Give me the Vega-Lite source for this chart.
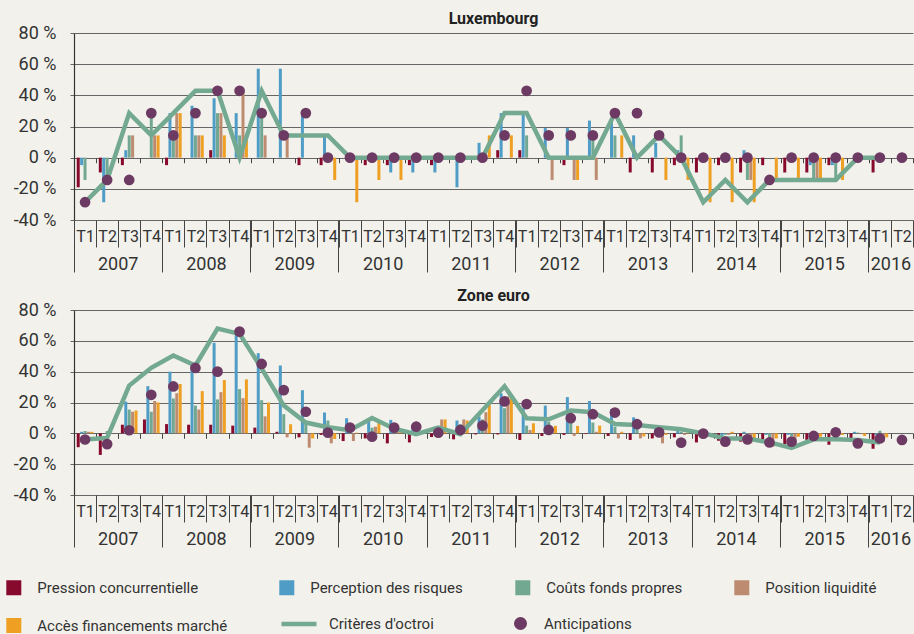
{
  "$schema": "https://vega.github.io/schema/vega-lite/v6.json",
  "background": "#f2f1ec",
  "padding": {"left": 6, "top": 11, "right": 0, "bottom": 0},
  "config": {
    "font": "Roboto",
    "view": {"stroke": null},
    "axis": {"labelFont": "Roboto", "labelColor": "#333"},
    "axisY": {"title": null, "values": [-40,-20,0,20,40,60,80], "labelExpr": "datum.value + ' %'", "labelFontSize": 18, "labelPadding": 14, "tickSize": 4, "tickColor": "#666", "grid": true, "gridColor": "#666", "gridWidth": 1.2, "domainColor": "#333", "domainWidth": 1.2},
    "legend": {"labelFont": "Roboto", "labelColor": "#333"},
    "title": {"frame": "group", "fontSize": 16, "fontWeight": "bold", "color": "#222", "offset": -3, "font": "Roboto"}
  },
  "spacing": 15,
  "data": {"values": [
    {"p":"L","q":"2007 T1","s":"pc","v":-19},{"p":"L","q":"2007 T1","s":"pr","v":-4.8},{"p":"L","q":"2007 T1","s":"cf","v":-14.3},
    {"p":"L","q":"2007 T2","s":"pc","v":-9.5},{"p":"L","q":"2007 T2","s":"pr","v":-28.6},{"p":"L","q":"2007 T2","s":"cf","v":-14.3},
    {"p":"L","q":"2007 T3","s":"pc","v":-4.8},{"p":"L","q":"2007 T3","s":"pr","v":4.8},{"p":"L","q":"2007 T3","s":"cf","v":14.3},{"p":"L","q":"2007 T3","s":"pl","v":14.3},
    {"p":"L","q":"2007 T4","s":"cf","v":28.6},{"p":"L","q":"2007 T4","s":"pl","v":14.3},{"p":"L","q":"2007 T4","s":"af","v":14.3},
    {"p":"L","q":"2008 T1","s":"pc","v":-4.8},{"p":"L","q":"2008 T1","s":"pr","v":28.6},{"p":"L","q":"2008 T1","s":"cf","v":14.3},{"p":"L","q":"2008 T1","s":"pl","v":28.6},{"p":"L","q":"2008 T1","s":"af","v":28.6},
    {"p":"L","q":"2008 T2","s":"pr","v":33.3},{"p":"L","q":"2008 T2","s":"cf","v":14.3},{"p":"L","q":"2008 T2","s":"pl","v":14.3},{"p":"L","q":"2008 T2","s":"af","v":14.3},
    {"p":"L","q":"2008 T3","s":"pc","v":4.8},{"p":"L","q":"2008 T3","s":"pr","v":38.1},{"p":"L","q":"2008 T3","s":"cf","v":28.6},{"p":"L","q":"2008 T3","s":"pl","v":28.6},{"p":"L","q":"2008 T3","s":"af","v":14.3},
    {"p":"L","q":"2008 T4","s":"pr","v":28.6},{"p":"L","q":"2008 T4","s":"cf","v":14.3},{"p":"L","q":"2008 T4","s":"pl","v":42.9},{"p":"L","q":"2008 T4","s":"af","v":14.3},
    {"p":"L","q":"2009 T1","s":"pr","v":57.1},{"p":"L","q":"2009 T1","s":"cf","v":28.6},{"p":"L","q":"2009 T1","s":"pl","v":14.3},
    {"p":"L","q":"2009 T2","s":"pr","v":57.1},{"p":"L","q":"2009 T2","s":"pl","v":14.3},
    {"p":"L","q":"2009 T3","s":"pc","v":-4.8},{"p":"L","q":"2009 T3","s":"pr","v":28.6},
    {"p":"L","q":"2009 T4","s":"pc","v":-4.8},{"p":"L","q":"2009 T4","s":"pr","v":14.3},{"p":"L","q":"2009 T4","s":"af","v":-14.3},
    {"p":"L","q":"2010 T1","s":"af","v":-28.6},
    {"p":"L","q":"2010 T2","s":"pc","v":-4.8},{"p":"L","q":"2010 T2","s":"af","v":-14.3},
    {"p":"L","q":"2010 T3","s":"pc","v":-4.8},{"p":"L","q":"2010 T3","s":"pr","v":-9.5},{"p":"L","q":"2010 T3","s":"af","v":-14.3},
    {"p":"L","q":"2010 T4","s":"pc","v":-4.8},{"p":"L","q":"2010 T4","s":"pr","v":-9.5},
    {"p":"L","q":"2011 T1","s":"pc","v":-4.8},{"p":"L","q":"2011 T1","s":"pr","v":-9.5},
    {"p":"L","q":"2011 T2","s":"pr","v":-19},
    {"p":"L","q":"2011 T3","s":"pr","v":9.5},{"p":"L","q":"2011 T3","s":"af","v":14.3},
    {"p":"L","q":"2011 T4","s":"pc","v":4.8},{"p":"L","q":"2011 T4","s":"pr","v":28.6},{"p":"L","q":"2011 T4","s":"af","v":14.3},
    {"p":"L","q":"2012 T1","s":"pc","v":4.8},{"p":"L","q":"2012 T1","s":"pr","v":28.6},{"p":"L","q":"2012 T1","s":"cf","v":14.3},
    {"p":"L","q":"2012 T2","s":"pr","v":19},{"p":"L","q":"2012 T2","s":"pl","v":-14.3},
    {"p":"L","q":"2012 T3","s":"pc","v":-4.8},{"p":"L","q":"2012 T3","s":"pr","v":19},{"p":"L","q":"2012 T3","s":"pl","v":-14.3},{"p":"L","q":"2012 T3","s":"af","v":-14.3},
    {"p":"L","q":"2012 T4","s":"pr","v":23.8},{"p":"L","q":"2012 T4","s":"cf","v":14.3},{"p":"L","q":"2012 T4","s":"pl","v":-14.3},
    {"p":"L","q":"2013 T1","s":"pr","v":23.8},{"p":"L","q":"2013 T1","s":"cf","v":14.3},{"p":"L","q":"2013 T1","s":"af","v":14.3},
    {"p":"L","q":"2013 T2","s":"pc","v":-9.5},{"p":"L","q":"2013 T2","s":"pr","v":14.3},
    {"p":"L","q":"2013 T3","s":"pc","v":-9.5},{"p":"L","q":"2013 T3","s":"pr","v":9.5},{"p":"L","q":"2013 T3","s":"af","v":-14.3},
    {"p":"L","q":"2013 T4","s":"pc","v":-4.8},{"p":"L","q":"2013 T4","s":"pr","v":4.8},{"p":"L","q":"2013 T4","s":"cf","v":14.3},{"p":"L","q":"2013 T4","s":"af","v":-14.3},
    {"p":"L","q":"2014 T1","s":"pc","v":-9.5},{"p":"L","q":"2014 T1","s":"af","v":-28.6},
    {"p":"L","q":"2014 T2","s":"pc","v":-4.8},{"p":"L","q":"2014 T2","s":"af","v":-28.6},
    {"p":"L","q":"2014 T3","s":"pc","v":-9.5},{"p":"L","q":"2014 T3","s":"pr","v":4.8},{"p":"L","q":"2014 T3","s":"cf","v":-14.3},{"p":"L","q":"2014 T3","s":"pl","v":-14.3},{"p":"L","q":"2014 T3","s":"af","v":-28.6},
    {"p":"L","q":"2014 T4","s":"pc","v":-4.8},{"p":"L","q":"2014 T4","s":"af","v":-14.3},
    {"p":"L","q":"2015 T1","s":"pc","v":-9.5},{"p":"L","q":"2015 T1","s":"af","v":-14.3},
    {"p":"L","q":"2015 T2","s":"pc","v":-9.5},{"p":"L","q":"2015 T2","s":"pr","v":-4.8},{"p":"L","q":"2015 T2","s":"cf","v":-14.3},{"p":"L","q":"2015 T2","s":"pl","v":-14.3},{"p":"L","q":"2015 T2","s":"af","v":-14.3},
    {"p":"L","q":"2015 T3","s":"pc","v":-4.8},{"p":"L","q":"2015 T3","s":"pr","v":-4.8},{"p":"L","q":"2015 T3","s":"cf","v":-14.3},{"p":"L","q":"2015 T3","s":"af","v":-14.3},
    {"p":"L","q":"2016 T1","s":"pc","v":-9.5},

    {"p":"L","q":"2007 T1","s":"line","v":-28.6},{"p":"L","q":"2007 T2","s":"line","v":-14.3},{"p":"L","q":"2007 T3","s":"line","v":28.6},{"p":"L","q":"2007 T4","s":"line","v":14.3},
    {"p":"L","q":"2008 T1","s":"line","v":28.6},{"p":"L","q":"2008 T2","s":"line","v":42.9},{"p":"L","q":"2008 T3","s":"line","v":42.9},{"p":"L","q":"2008 T4","s":"line","v":0},
    {"p":"L","q":"2009 T1","s":"line","v":42.9},{"p":"L","q":"2009 T2","s":"line","v":14.3},{"p":"L","q":"2009 T3","s":"line","v":14.3},{"p":"L","q":"2009 T4","s":"line","v":14.3},
    {"p":"L","q":"2010 T1","s":"line","v":0},{"p":"L","q":"2010 T2","s":"line","v":0},{"p":"L","q":"2010 T3","s":"line","v":0},{"p":"L","q":"2010 T4","s":"line","v":0},
    {"p":"L","q":"2011 T1","s":"line","v":0},{"p":"L","q":"2011 T2","s":"line","v":0},{"p":"L","q":"2011 T3","s":"line","v":0},{"p":"L","q":"2011 T4","s":"line","v":28.6},
    {"p":"L","q":"2012 T1","s":"line","v":28.6},{"p":"L","q":"2012 T2","s":"line","v":0},{"p":"L","q":"2012 T3","s":"line","v":0},{"p":"L","q":"2012 T4","s":"line","v":0},
    {"p":"L","q":"2013 T1","s":"line","v":28.6},{"p":"L","q":"2013 T2","s":"line","v":0},{"p":"L","q":"2013 T3","s":"line","v":14.3},{"p":"L","q":"2013 T4","s":"line","v":0},
    {"p":"L","q":"2014 T1","s":"line","v":-28.6},{"p":"L","q":"2014 T2","s":"line","v":-14.3},{"p":"L","q":"2014 T3","s":"line","v":-28.6},{"p":"L","q":"2014 T4","s":"line","v":-14.3},
    {"p":"L","q":"2015 T1","s":"line","v":-14.3},{"p":"L","q":"2015 T2","s":"line","v":-14.3},{"p":"L","q":"2015 T3","s":"line","v":-14.3},{"p":"L","q":"2015 T4","s":"line","v":0},
    {"p":"L","q":"2016 T1","s":"line","v":0},

    {"p":"L","q":"2007 T1","s":"pt","v":-28.6},{"p":"L","q":"2007 T2","s":"pt","v":-14.3},{"p":"L","q":"2007 T3","s":"pt","v":-14.3},{"p":"L","q":"2007 T4","s":"pt","v":28.6},
    {"p":"L","q":"2008 T1","s":"pt","v":14.3},{"p":"L","q":"2008 T2","s":"pt","v":28.6},{"p":"L","q":"2008 T3","s":"pt","v":42.9},{"p":"L","q":"2008 T4","s":"pt","v":42.9},
    {"p":"L","q":"2009 T1","s":"pt","v":28.6},{"p":"L","q":"2009 T2","s":"pt","v":14.3},{"p":"L","q":"2009 T3","s":"pt","v":28.6},{"p":"L","q":"2009 T4","s":"pt","v":0},
    {"p":"L","q":"2010 T1","s":"pt","v":0},{"p":"L","q":"2010 T2","s":"pt","v":0},{"p":"L","q":"2010 T3","s":"pt","v":0},{"p":"L","q":"2010 T4","s":"pt","v":0},
    {"p":"L","q":"2011 T1","s":"pt","v":0},{"p":"L","q":"2011 T2","s":"pt","v":0},{"p":"L","q":"2011 T3","s":"pt","v":0},{"p":"L","q":"2011 T4","s":"pt","v":14.3},
    {"p":"L","q":"2012 T1","s":"pt","v":42.9},{"p":"L","q":"2012 T2","s":"pt","v":14.3},{"p":"L","q":"2012 T3","s":"pt","v":14.3},{"p":"L","q":"2012 T4","s":"pt","v":14.3},
    {"p":"L","q":"2013 T1","s":"pt","v":28.6},{"p":"L","q":"2013 T2","s":"pt","v":28.6},{"p":"L","q":"2013 T3","s":"pt","v":14.3},{"p":"L","q":"2013 T4","s":"pt","v":0},
    {"p":"L","q":"2014 T1","s":"pt","v":0},{"p":"L","q":"2014 T2","s":"pt","v":0},{"p":"L","q":"2014 T3","s":"pt","v":0},{"p":"L","q":"2014 T4","s":"pt","v":-14.3},
    {"p":"L","q":"2015 T1","s":"pt","v":0},{"p":"L","q":"2015 T2","s":"pt","v":0},{"p":"L","q":"2015 T3","s":"pt","v":0},{"p":"L","q":"2015 T4","s":"pt","v":0},
    {"p":"L","q":"2016 T1","s":"pt","v":0},{"p":"L","q":"2016 T2","s":"pt","v":0},

    {"p":"E","q":"2007 T1","s":"pc","v":-9},{"p":"E","q":"2007 T1","s":"pr","v":1},{"p":"E","q":"2007 T1","s":"cf","v":1.5},{"p":"E","q":"2007 T1","s":"pl","v":1},{"p":"E","q":"2007 T1","s":"af","v":1},
    {"p":"E","q":"2007 T2","s":"pc","v":-14},{"p":"E","q":"2007 T2","s":"cf","v":1.5},
    {"p":"E","q":"2007 T3","s":"pc","v":5.6},{"p":"E","q":"2007 T3","s":"pr","v":20.6},{"p":"E","q":"2007 T3","s":"cf","v":15.4},{"p":"E","q":"2007 T3","s":"pl","v":14},{"p":"E","q":"2007 T3","s":"af","v":14.8},
    {"p":"E","q":"2007 T4","s":"pc","v":9},{"p":"E","q":"2007 T4","s":"pr","v":30.6},{"p":"E","q":"2007 T4","s":"cf","v":14},{"p":"E","q":"2007 T4","s":"pl","v":21},{"p":"E","q":"2007 T4","s":"af","v":20},
    {"p":"E","q":"2008 T1","s":"pc","v":6},{"p":"E","q":"2008 T1","s":"pr","v":40},{"p":"E","q":"2008 T1","s":"cf","v":22.6},{"p":"E","q":"2008 T1","s":"pl","v":26},{"p":"E","q":"2008 T1","s":"af","v":32},
    {"p":"E","q":"2008 T2","s":"pc","v":5.6},{"p":"E","q":"2008 T2","s":"pr","v":43.5},{"p":"E","q":"2008 T2","s":"cf","v":18},{"p":"E","q":"2008 T2","s":"pl","v":15.4},{"p":"E","q":"2008 T2","s":"af","v":27.4},
    {"p":"E","q":"2008 T3","s":"pc","v":5.6},{"p":"E","q":"2008 T3","s":"pr","v":58.7},{"p":"E","q":"2008 T3","s":"cf","v":22},{"p":"E","q":"2008 T3","s":"pl","v":26.7},{"p":"E","q":"2008 T3","s":"af","v":34.6},
    {"p":"E","q":"2008 T4","s":"pc","v":5},{"p":"E","q":"2008 T4","s":"pr","v":65},{"p":"E","q":"2008 T4","s":"cf","v":28.7},{"p":"E","q":"2008 T4","s":"pl","v":22.8},{"p":"E","q":"2008 T4","s":"af","v":35},
    {"p":"E","q":"2009 T1","s":"pc","v":3.7},{"p":"E","q":"2009 T1","s":"pr","v":52},{"p":"E","q":"2009 T1","s":"cf","v":21.5},{"p":"E","q":"2009 T1","s":"pl","v":11},{"p":"E","q":"2009 T1","s":"af","v":20},
    {"p":"E","q":"2009 T2","s":"pc","v":1},{"p":"E","q":"2009 T2","s":"pr","v":44},{"p":"E","q":"2009 T2","s":"cf","v":12.4},{"p":"E","q":"2009 T2","s":"pl","v":-2.6},{"p":"E","q":"2009 T2","s":"af","v":5.9},
    {"p":"E","q":"2009 T3","s":"pc","v":-2.6},{"p":"E","q":"2009 T3","s":"pr","v":28},{"p":"E","q":"2009 T3","s":"cf","v":6.5},{"p":"E","q":"2009 T3","s":"pl","v":-9.3},{"p":"E","q":"2009 T3","s":"af","v":-3.3},
    {"p":"E","q":"2009 T4","s":"pc","v":-1},{"p":"E","q":"2009 T4","s":"pr","v":13.5},{"p":"E","q":"2009 T4","s":"cf","v":8.3},{"p":"E","q":"2009 T4","s":"pl","v":-6.5},{"p":"E","q":"2009 T4","s":"af","v":-3.7},
    {"p":"E","q":"2010 T1","s":"pc","v":-5},{"p":"E","q":"2010 T1","s":"pr","v":9.8},{"p":"E","q":"2010 T1","s":"cf","v":4},{"p":"E","q":"2010 T1","s":"pl","v":-5},{"p":"E","q":"2010 T1","s":"af","v":0.4},
    {"p":"E","q":"2010 T2","s":"pc","v":-3.3},{"p":"E","q":"2010 T2","s":"pr","v":8.7},{"p":"E","q":"2010 T2","s":"cf","v":3.7},{"p":"E","q":"2010 T2","s":"pl","v":4.3},{"p":"E","q":"2010 T2","s":"af","v":7.2},
    {"p":"E","q":"2010 T3","s":"pc","v":-6.5},{"p":"E","q":"2010 T3","s":"pr","v":8.7},{"p":"E","q":"2010 T3","s":"cf","v":4.3},{"p":"E","q":"2010 T3","s":"pl","v":1.7},{"p":"E","q":"2010 T3","s":"af","v":1},
    {"p":"E","q":"2010 T4","s":"pc","v":-5.9},{"p":"E","q":"2010 T4","s":"pr","v":3.7},{"p":"E","q":"2010 T4","s":"cf","v":1},
    {"p":"E","q":"2011 T1","s":"pc","v":-2.4},{"p":"E","q":"2011 T1","s":"pr","v":4.3},{"p":"E","q":"2011 T1","s":"cf","v":4.3},{"p":"E","q":"2011 T1","s":"pl","v":9},{"p":"E","q":"2011 T1","s":"af","v":9},
    {"p":"E","q":"2011 T2","s":"pc","v":-3.9},{"p":"E","q":"2011 T2","s":"pr","v":8.3},{"p":"E","q":"2011 T2","s":"cf","v":5.9},{"p":"E","q":"2011 T2","s":"pl","v":9},{"p":"E","q":"2011 T2","s":"af","v":8.3},
    {"p":"E","q":"2011 T3","s":"pc","v":-0.7},{"p":"E","q":"2011 T3","s":"pr","v":11},{"p":"E","q":"2011 T3","s":"cf","v":9},{"p":"E","q":"2011 T3","s":"pl","v":13.7},{"p":"E","q":"2011 T3","s":"af","v":19},
    {"p":"E","q":"2011 T4","s":"pc","v":-0.7},{"p":"E","q":"2011 T4","s":"pr","v":26},{"p":"E","q":"2011 T4","s":"cf","v":16.3},{"p":"E","q":"2011 T4","s":"pl","v":24},{"p":"E","q":"2011 T4","s":"af","v":23.5},
    {"p":"E","q":"2012 T1","s":"pc","v":-4.3},{"p":"E","q":"2012 T1","s":"pr","v":16.3},{"p":"E","q":"2012 T1","s":"cf","v":5},{"p":"E","q":"2012 T1","s":"pl","v":2.2},{"p":"E","q":"2012 T1","s":"af","v":6.5},
    {"p":"E","q":"2012 T2","s":"pc","v":-1.7},{"p":"E","q":"2012 T2","s":"pr","v":18},{"p":"E","q":"2012 T2","s":"cf","v":7.6},{"p":"E","q":"2012 T2","s":"pl","v":1},{"p":"E","q":"2012 T2","s":"af","v":4.8},
    {"p":"E","q":"2012 T3","s":"pc","v":-1},{"p":"E","q":"2012 T3","s":"pr","v":23.5},{"p":"E","q":"2012 T3","s":"cf","v":8.7},{"p":"E","q":"2012 T3","s":"pl","v":-1.7},{"p":"E","q":"2012 T3","s":"af","v":4.8},
    {"p":"E","q":"2012 T4","s":"pc","v":-0.4},{"p":"E","q":"2012 T4","s":"pr","v":21},{"p":"E","q":"2012 T4","s":"cf","v":7},{"p":"E","q":"2012 T4","s":"pl","v":1},{"p":"E","q":"2012 T4","s":"af","v":5},
    {"p":"E","q":"2013 T1","s":"pc","v":-1.7},{"p":"E","q":"2013 T1","s":"pr","v":15.7},{"p":"E","q":"2013 T1","s":"cf","v":4.3},{"p":"E","q":"2013 T1","s":"pl","v":-3.3},{"p":"E","q":"2013 T1","s":"af","v":1},
    {"p":"E","q":"2013 T2","s":"pc","v":-4.3},{"p":"E","q":"2013 T2","s":"pr","v":10.4},{"p":"E","q":"2013 T2","s":"cf","v":4},{"p":"E","q":"2013 T2","s":"pl","v":-3.3},{"p":"E","q":"2013 T2","s":"af","v":-2},
    {"p":"E","q":"2013 T3","s":"pc","v":-3.3},{"p":"E","q":"2013 T3","s":"pr","v":5},{"p":"E","q":"2013 T3","s":"cf","v":2},{"p":"E","q":"2013 T3","s":"pl","v":-6.5},{"p":"E","q":"2013 T3","s":"af","v":-1},
    {"p":"E","q":"2013 T4","s":"pc","v":-2.6},{"p":"E","q":"2013 T4","s":"pr","v":2.6},{"p":"E","q":"2013 T4","s":"cf","v":1},{"p":"E","q":"2013 T4","s":"pl","v":-1},{"p":"E","q":"2013 T4","s":"af","v":0.5},
    {"p":"E","q":"2014 T1","s":"pc","v":-5.9},{"p":"E","q":"2014 T1","s":"pr","v":1},{"p":"E","q":"2014 T1","s":"cf","v":1},{"p":"E","q":"2014 T1","s":"pl","v":-1},{"p":"E","q":"2014 T1","s":"af","v":-1},
    {"p":"E","q":"2014 T2","s":"pc","v":-4.8},{"p":"E","q":"2014 T2","s":"pr","v":-2},{"p":"E","q":"2014 T2","s":"cf","v":-1},{"p":"E","q":"2014 T2","s":"pl","v":-1},{"p":"E","q":"2014 T2","s":"af","v":1},
    {"p":"E","q":"2014 T3","s":"pc","v":-5.4},{"p":"E","q":"2014 T3","s":"pr","v":1},{"p":"E","q":"2014 T3","s":"cf","v":-2},{"p":"E","q":"2014 T3","s":"pl","v":-6.5},{"p":"E","q":"2014 T3","s":"af","v":-3.3},
    {"p":"E","q":"2014 T4","s":"pc","v":-3.9},{"p":"E","q":"2014 T4","s":"pr","v":-1},{"p":"E","q":"2014 T4","s":"cf","v":-6.5},{"p":"E","q":"2014 T4","s":"pl","v":-8.7},{"p":"E","q":"2014 T4","s":"af","v":-3.3},
    {"p":"E","q":"2015 T1","s":"pc","v":-7},{"p":"E","q":"2015 T1","s":"pr","v":-1},{"p":"E","q":"2015 T1","s":"cf","v":-2},{"p":"E","q":"2015 T1","s":"pl","v":-6.5},{"p":"E","q":"2015 T1","s":"af","v":-2.2},
    {"p":"E","q":"2015 T2","s":"pc","v":-4.3},{"p":"E","q":"2015 T2","s":"pr","v":-1},{"p":"E","q":"2015 T2","s":"cf","v":-2},{"p":"E","q":"2015 T2","s":"pl","v":-1},{"p":"E","q":"2015 T2","s":"af","v":-2.2},
    {"p":"E","q":"2015 T3","s":"pc","v":-7.4},{"p":"E","q":"2015 T3","s":"pr","v":1},{"p":"E","q":"2015 T3","s":"cf","v":-1},{"p":"E","q":"2015 T3","s":"pl","v":-1},{"p":"E","q":"2015 T3","s":"af","v":-1},
    {"p":"E","q":"2015 T4","s":"pc","v":-3.3},{"p":"E","q":"2015 T4","s":"pr","v":1},{"p":"E","q":"2015 T4","s":"cf","v":0.5},{"p":"E","q":"2015 T4","s":"pl","v":-0.5},{"p":"E","q":"2015 T4","s":"af","v":-1.7},
    {"p":"E","q":"2016 T1","s":"pc","v":-10},{"p":"E","q":"2016 T1","s":"pr","v":-1},{"p":"E","q":"2016 T1","s":"cf","v":1.7},{"p":"E","q":"2016 T1","s":"pl","v":-5.4},{"p":"E","q":"2016 T1","s":"af","v":-2.6},

    {"p":"E","q":"2007 T1","s":"line","v":-4},{"p":"E","q":"2007 T2","s":"line","v":-3},{"p":"E","q":"2007 T3","s":"line","v":31},{"p":"E","q":"2007 T4","s":"line","v":42.5},
    {"p":"E","q":"2008 T1","s":"line","v":50.5},{"p":"E","q":"2008 T2","s":"line","v":44},{"p":"E","q":"2008 T3","s":"line","v":68},{"p":"E","q":"2008 T4","s":"line","v":64.5},
    {"p":"E","q":"2009 T1","s":"line","v":42},{"p":"E","q":"2009 T2","s":"line","v":18},{"p":"E","q":"2009 T3","s":"line","v":7},{"p":"E","q":"2009 T4","s":"line","v":4},
    {"p":"E","q":"2010 T1","s":"line","v":2},{"p":"E","q":"2010 T2","s":"line","v":10},{"p":"E","q":"2010 T3","s":"line","v":3},{"p":"E","q":"2010 T4","s":"line","v":-0.5},
    {"p":"E","q":"2011 T1","s":"line","v":3.7},{"p":"E","q":"2011 T2","s":"line","v":-0.5},{"p":"E","q":"2011 T3","s":"line","v":15},{"p":"E","q":"2011 T4","s":"line","v":30.5},
    {"p":"E","q":"2012 T1","s":"line","v":9.8},{"p":"E","q":"2012 T2","s":"line","v":9.1},{"p":"E","q":"2012 T3","s":"line","v":14.8},{"p":"E","q":"2012 T4","s":"line","v":13.7},
    {"p":"E","q":"2013 T1","s":"line","v":6},{"p":"E","q":"2013 T2","s":"line","v":5.4},{"p":"E","q":"2013 T3","s":"line","v":3.9},{"p":"E","q":"2013 T4","s":"line","v":2.6},
    {"p":"E","q":"2014 T1","s":"line","v":0},{"p":"E","q":"2014 T2","s":"line","v":-3.3},{"p":"E","q":"2014 T3","s":"line","v":-3.3},{"p":"E","q":"2014 T4","s":"line","v":-5.9},
    {"p":"E","q":"2015 T1","s":"line","v":-9.5},{"p":"E","q":"2015 T2","s":"line","v":-3.9},{"p":"E","q":"2015 T3","s":"line","v":-3.9},{"p":"E","q":"2015 T4","s":"line","v":-4.3},
    {"p":"E","q":"2016 T1","s":"line","v":-6},

    {"p":"E","q":"2007 T1","s":"pt","v":-4},{"p":"E","q":"2007 T2","s":"pt","v":-7},{"p":"E","q":"2007 T3","s":"pt","v":2},{"p":"E","q":"2007 T4","s":"pt","v":25},
    {"p":"E","q":"2008 T1","s":"pt","v":30.4},{"p":"E","q":"2008 T2","s":"pt","v":42.4},{"p":"E","q":"2008 T3","s":"pt","v":40},{"p":"E","q":"2008 T4","s":"pt","v":66},
    {"p":"E","q":"2009 T1","s":"pt","v":45},{"p":"E","q":"2009 T2","s":"pt","v":28},{"p":"E","q":"2009 T3","s":"pt","v":14},{"p":"E","q":"2009 T4","s":"pt","v":0.4},
    {"p":"E","q":"2010 T1","s":"pt","v":3.7},{"p":"E","q":"2010 T2","s":"pt","v":-2.2},{"p":"E","q":"2010 T3","s":"pt","v":3.7},{"p":"E","q":"2010 T4","s":"pt","v":4.3},
    {"p":"E","q":"2011 T1","s":"pt","v":0.4},{"p":"E","q":"2011 T2","s":"pt","v":2.2},{"p":"E","q":"2011 T3","s":"pt","v":5},{"p":"E","q":"2011 T4","s":"pt","v":20.7},
    {"p":"E","q":"2012 T1","s":"pt","v":19},{"p":"E","q":"2012 T2","s":"pt","v":2.2},{"p":"E","q":"2012 T3","s":"pt","v":9.8},{"p":"E","q":"2012 T4","s":"pt","v":12.4},
    {"p":"E","q":"2013 T1","s":"pt","v":13.5},{"p":"E","q":"2013 T2","s":"pt","v":5.9},{"p":"E","q":"2013 T3","s":"pt","v":0.6},{"p":"E","q":"2013 T4","s":"pt","v":-6},
    {"p":"E","q":"2014 T1","s":"pt","v":-0.2},{"p":"E","q":"2014 T2","s":"pt","v":-5.4},{"p":"E","q":"2014 T3","s":"pt","v":-3.9},{"p":"E","q":"2014 T4","s":"pt","v":-5.9},
    {"p":"E","q":"2015 T1","s":"pt","v":-5.4},{"p":"E","q":"2015 T2","s":"pt","v":-1.7},{"p":"E","q":"2015 T3","s":"pt","v":0.7},{"p":"E","q":"2015 T4","s":"pt","v":-6.5},
    {"p":"E","q":"2016 T1","s":"pt","v":-3.3},{"p":"E","q":"2016 T2","s":"pt","v":-4.3}
  ]},
  "vconcat": [
    {
      "title": {"text": "Luxembourg"},
      "width": 839, "height": 187,
      "transform": [{"filter": "datum.p === 'L'"}],
      "resolve": {"axis": {"x": "independent"}},
      "layer": [
        {
          "transform": [{"filter": "datum.s !== 'line' && datum.s !== 'pt'"}],
          "mark": {"type": "bar"},
          "encoding": {
            "x": {"field": "q", "type": "ordinal", "scale": {"domain": ["2007 T1","2007 T2","2007 T3","2007 T4","2008 T1","2008 T2","2008 T3","2008 T4","2009 T1","2009 T2","2009 T3","2009 T4","2010 T1","2010 T2","2010 T3","2010 T4","2011 T1","2011 T2","2011 T3","2011 T4","2012 T1","2012 T2","2012 T3","2012 T4","2013 T1","2013 T2","2013 T3","2013 T4","2014 T1","2014 T2","2014 T3","2014 T4","2015 T1","2015 T2","2015 T3","2015 T4","2016 T1","2016 T2"], "paddingInner": 0, "paddingOuter": 0},
              "axis": {"orient": "bottom", "title": null, "tickBand": "extent", "tickSize": 27, "tickColor": "#444", "domain": false, "grid": false, "labelExpr": "isString(datum.value) ? substring(datum.value, 5) : ''", "labelFontSize": 16, "labelPadding": -11, "labelBaseline": "middle", "labelAngle": 0, "labelOverlap": false, "labelBound": false}},
            "xOffset": {"field": "s", "scale": {"domain": ["pc","pr","cf","pl","af"], "paddingInner": 0.12, "paddingOuter": 0.8}},
            "y": {"field": "v", "type": "quantitative", "scale": {"domain": [-40, 80], "nice": false}},
            "color": {"field": "s", "type": "nominal", "scale": {"domain": ["pc","pr","cf","pl","af"], "range": ["#870a2c","#4f9dc6","#72a892","#bc8b70","#ef9f22"]},
              "legend": {"orient": "none", "legendX": -67.7, "legendY": 547, "direction": "horizontal", "columns": 4, "columnPadding": 52, "rowPadding": 22, "title": null, "symbolType": "square", "symbolSize": 225, "symbolStrokeWidth": 0, "labelFontSize": 15, "labelOffset": 16, "labelLimit": 300,
                "labelExpr": "{'pc': 'Pression concurrentielle', 'pr': 'Perception des risques', 'cf': 'Coûts fonds propres', 'pl': 'Position liquidité', 'af': 'Accès financements marché'}[datum.value]"}}
          }
        },
        {
          "transform": [{"filter": "datum.s === 'line'"}],
          "mark": {"type": "line", "strokeWidth": 4.5},
          "encoding": {
            "x": {"field": "q", "type": "ordinal",
              "axis": {"orient": "bottom", "title": null, "bandPosition": 0, "tickSize": 52, "tickColor": "#444", "tickOpacity": {"condition": {"test": "isString(datum.value) && substring(datum.value, 5) === 'T1'", "value": 1}, "value": 0}, "domain": false, "grid": false, "labelExpr": "isString(datum.value) && (substring(datum.value, 5) === 'T3' || datum.value === '2016 T2') ? substring(datum.value, 0, 4) : ''", "labelFontSize": 18, "labelPadding": -8, "labelOffset": -11.03, "labelBaseline": "middle", "labelAngle": 0, "labelOverlap": false, "labelBound": false}},
            "y": {"field": "v", "type": "quantitative"},
            "stroke": {"datum": "Critères d'octroi", "type": "nominal", "scale": {"range": ["#74a991"]},
              "legend": {"orient": "none", "legendX": 205, "legendY": 571, "title": null, "symbolType": "stroke", "symbolSize": 1225, "symbolStrokeWidth": 4.5, "labelFontSize": 15, "labelOffset": 10}}
          }
        },
        {
          "transform": [{"filter": "datum.s === 'pt'"}],
          "mark": {"type": "point", "filled": true, "size": 115, "opacity": 1},
          "encoding": {
            "x": {"field": "q", "type": "ordinal",
              "axis": {"orient": "bottom", "title": null, "offset": -62.3, "tickBand": "extent", "tickSize": 5, "tickColor": "#444", "labels": false, "domain": false, "grid": false}},
            "y": {"field": "v", "type": "quantitative"},
            "fill": {"datum": "Anticipations", "type": "nominal", "scale": {"range": ["#6c3a63"]},
              "legend": {"orient": "none", "legendX": 439, "legendY": 583, "title": null, "symbolType": "circle", "symbolSize": 170, "symbolOpacity": 1, "labelFontSize": 15, "labelOffset": 16}}
          }
        }
      ]
    },
    {
      "title": {"text": "Zone euro"},
      "width": 839, "height": 185,
      "transform": [{"filter": "datum.p === 'E'"}],
      "resolve": {"axis": {"x": "independent"}},
      "layer": [
        {
          "transform": [{"filter": "datum.s !== 'line' && datum.s !== 'pt'"}],
          "mark": {"type": "bar"},
          "encoding": {
            "x": {"field": "q", "type": "ordinal", "scale": {"domain": ["2007 T1","2007 T2","2007 T3","2007 T4","2008 T1","2008 T2","2008 T3","2008 T4","2009 T1","2009 T2","2009 T3","2009 T4","2010 T1","2010 T2","2010 T3","2010 T4","2011 T1","2011 T2","2011 T3","2011 T4","2012 T1","2012 T2","2012 T3","2012 T4","2013 T1","2013 T2","2013 T3","2013 T4","2014 T1","2014 T2","2014 T3","2014 T4","2015 T1","2015 T2","2015 T3","2015 T4","2016 T1","2016 T2"], "paddingInner": 0, "paddingOuter": 0},
              "axis": {"orient": "bottom", "title": null, "tickBand": "extent", "tickSize": 27, "tickColor": "#444", "domain": false, "grid": false, "labelExpr": "isString(datum.value) ? substring(datum.value, 5) : ''", "labelFontSize": 16, "labelPadding": -11, "labelBaseline": "middle", "labelAngle": 0, "labelOverlap": false, "labelBound": false}},
            "xOffset": {"field": "s", "scale": {"domain": ["pc","pr","cf","pl","af"], "paddingInner": 0.12, "paddingOuter": 0.8}},
            "y": {"field": "v", "type": "quantitative", "scale": {"domain": [-40, 80], "nice": false}},
            "color": {"field": "s", "type": "nominal", "scale": {"domain": ["pc","pr","cf","pl","af"], "range": ["#870a2c","#4f9dc6","#72a892","#bc8b70","#ef9f22"]},
              "legend": {"orient": "none", "legendX": -67.7, "legendY": 547, "direction": "horizontal", "columns": 4, "columnPadding": 52, "rowPadding": 22, "title": null, "symbolType": "square", "symbolSize": 225, "symbolStrokeWidth": 0, "labelFontSize": 15, "labelOffset": 16, "labelLimit": 300,
                "labelExpr": "{'pc': 'Pression concurrentielle', 'pr': 'Perception des risques', 'cf': 'Coûts fonds propres', 'pl': 'Position liquidité', 'af': 'Accès financements marché'}[datum.value]"}}
          }
        },
        {
          "transform": [{"filter": "datum.s === 'line'"}],
          "mark": {"type": "line", "strokeWidth": 4.5},
          "encoding": {
            "x": {"field": "q", "type": "ordinal",
              "axis": {"orient": "bottom", "title": null, "bandPosition": 0, "tickSize": 52, "tickColor": "#444", "tickOpacity": {"condition": {"test": "isString(datum.value) && substring(datum.value, 5) === 'T1'", "value": 1}, "value": 0}, "domain": false, "grid": false, "labelExpr": "isString(datum.value) && (substring(datum.value, 5) === 'T3' || datum.value === '2016 T2') ? substring(datum.value, 0, 4) : ''", "labelFontSize": 18, "labelPadding": -8, "labelOffset": -11.03, "labelBaseline": "middle", "labelAngle": 0, "labelOverlap": false, "labelBound": false}},
            "y": {"field": "v", "type": "quantitative"},
            "stroke": {"datum": "Critères d'octroi", "type": "nominal", "scale": {"range": ["#74a991"]},
              "legend": {"orient": "none", "legendX": 205, "legendY": 571, "title": null, "symbolType": "stroke", "symbolSize": 1225, "symbolStrokeWidth": 4.5, "labelFontSize": 15, "labelOffset": 10}}
          }
        },
        {
          "transform": [{"filter": "datum.s === 'pt'"}],
          "mark": {"type": "point", "filled": true, "size": 115, "opacity": 1},
          "encoding": {
            "x": {"field": "q", "type": "ordinal",
              "axis": {"orient": "bottom", "title": null, "offset": -61.7, "tickBand": "extent", "tickSize": 5, "tickColor": "#444", "labels": false, "domain": false, "grid": false}},
            "y": {"field": "v", "type": "quantitative"},
            "fill": {"datum": "Anticipations", "type": "nominal", "scale": {"range": ["#6c3a63"]},
              "legend": {"orient": "none", "legendX": 439, "legendY": 583, "title": null, "symbolType": "circle", "symbolSize": 170, "symbolOpacity": 1, "labelFontSize": 15, "labelOffset": 16}}
          }
        }
      ]
    }
  ],
  "resolve": {"scale": {"color": "shared", "stroke": "shared", "fill": "shared"}, "legend": {"color": "shared", "stroke": "shared", "fill": "shared"}}
}
